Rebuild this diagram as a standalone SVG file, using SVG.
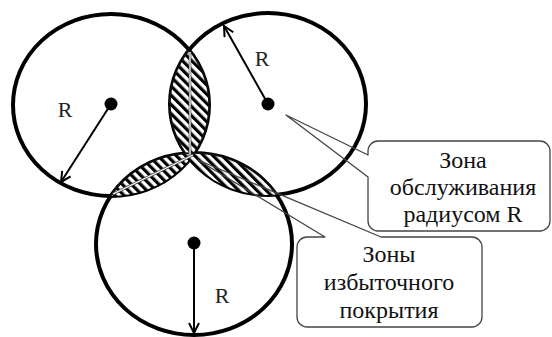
<svg xmlns="http://www.w3.org/2000/svg" width="552" height="337" viewBox="0 0 552 337">
  <style>
    .circ { fill: none; stroke: #000; stroke-width: 4; }
    .dot { fill: #000; }
    .lab { font-size: 22px; fill: #222; text-anchor: middle; }
    .txt { font-size: 24px; fill: #111; text-anchor: middle; }
    .call { fill: none; stroke: #444; stroke-width: 1.3; stroke-linejoin: round; }
    .rad { stroke: #000; stroke-width: 2; fill: none; }
    .chordA { stroke: #444; stroke-width: 2.6; }
    .chordB { stroke: #fff; stroke-width: 1.2; }
    .edge { fill: none; stroke: #111; stroke-width: 1.4; }
  </style>
  <defs>
    <pattern id="hatch" patternUnits="userSpaceOnUse" width="6.5" height="6.5" patternTransform="rotate(-45)">
      <rect x="0" y="0" width="6.5" height="6.5" fill="#fff"/>
      <rect x="0" y="0" width="3.2" height="6.5" fill="#000"/>
    </pattern>
    <clipPath id="c1"><ellipse cx="111" cy="105" rx="98" ry="91"/></clipPath>
    <clipPath id="c2"><ellipse cx="268" cy="104" rx="98" ry="91"/></clipPath>
    <marker id="arr" markerUnits="userSpaceOnUse" markerWidth="14" markerHeight="14" refX="11" refY="6" orient="auto">
      <path d="M1,1 L11,6 L1,11" fill="none" stroke="#000" stroke-width="2"/>
    </marker>
  </defs>

  <rect width="552" height="337" fill="#fff"/>

  <g id="circle1">
    <ellipse class="circ" cx="111" cy="105" rx="98" ry="91"/>
  </g>
  <g id="circle2">
    <ellipse class="circ" cx="268" cy="104" rx="98" ry="91"/>
  </g>
  <g id="circle3">
    <ellipse class="circ" cx="194" cy="244" rx="98" ry="91"/>
  </g>

  <g id="overlap-zones">
    <g clip-path="url(#c1)">
      <ellipse cx="268" cy="104" rx="98" ry="91" fill="url(#hatch)"/>
      <ellipse class="edge" cx="268" cy="104" rx="98" ry="91"/>
    </g>
    <g clip-path="url(#c2)">
      <ellipse class="edge" cx="111" cy="105" rx="98" ry="91"/>
    </g>
    <g clip-path="url(#c1)">
      <ellipse cx="194" cy="244" rx="98" ry="91" fill="url(#hatch)"/>
      <ellipse class="edge" cx="194" cy="244" rx="98" ry="91"/>
    </g>
    <g clip-path="url(#c2)">
      <ellipse cx="194" cy="244" rx="98" ry="91" fill="url(#hatch)"/>
      <ellipse class="edge" cx="194" cy="244" rx="98" ry="91"/>
    </g>
    <line class="chordA" x1="190" y1="52" x2="190" y2="157"/>
    <line class="chordB" x1="190" y1="52" x2="190" y2="157"/>
    <line class="chordA" x1="113" y1="194" x2="193" y2="155"/>
    <line class="chordB" x1="113" y1="194" x2="193" y2="155"/>
  </g>

  <g id="centers">
    <circle class="dot" cx="111" cy="104" r="6.5"/>
    <circle class="dot" cx="268" cy="104" r="6.5"/>
    <circle class="dot" cx="194" cy="243" r="6.5"/>
  </g>

  <g id="connectors">
    <line class="rad" x1="111" y1="104" x2="61" y2="182" marker-end="url(#arr)"/>
    <line class="rad" x1="268" y1="104" x2="224" y2="26" marker-end="url(#arr)"/>
    <line class="rad" x1="194" y1="243" x2="194" y2="333" marker-end="url(#arr)"/>
  </g>

  <g id="radius-labels" font-family="Liberation Serif, DejaVu Serif, serif">
    <text class="lab" x="65" y="117">R</text>
    <text class="lab" x="262" y="66">R</text>
    <text class="lab" x="222" y="303">R</text>
  </g>

  <g id="callout-service" font-family="Liberation Serif, DejaVu Serif, serif">
    <path class="call" d="M378,141 L540,141 A10,10 0 0 1 550,151 L550,221 A10,10 0 0 1 540,231 L378,231 A10,10 0 0 1 368,221 L368,177 L286,115 L368,155 L368,151 A10,10 0 0 1 378,141 Z"/>
    <text class="txt" x="463" y="168">Зона</text>
    <text class="txt" x="463" y="195">обслуживания</text>
    <text class="txt" x="463" y="222">радиусом R</text>
  </g>

  <g id="callout-overlap" font-family="Liberation Serif, DejaVu Serif, serif">
    <path class="call" d="M307,237 L325,237 L198,160 L381,237 L472,237 A10,10 0 0 1 482,247 L482,317 A10,10 0 0 1 472,327 L307,327 A10,10 0 0 1 297,317 L297,247 A10,10 0 0 1 307,237 Z"/>
    <text class="txt" x="389" y="262">Зоны</text>
    <text class="txt" x="389" y="290">избыточного</text>
    <text class="txt" x="389" y="318">покрытия</text>
  </g>
</svg>
